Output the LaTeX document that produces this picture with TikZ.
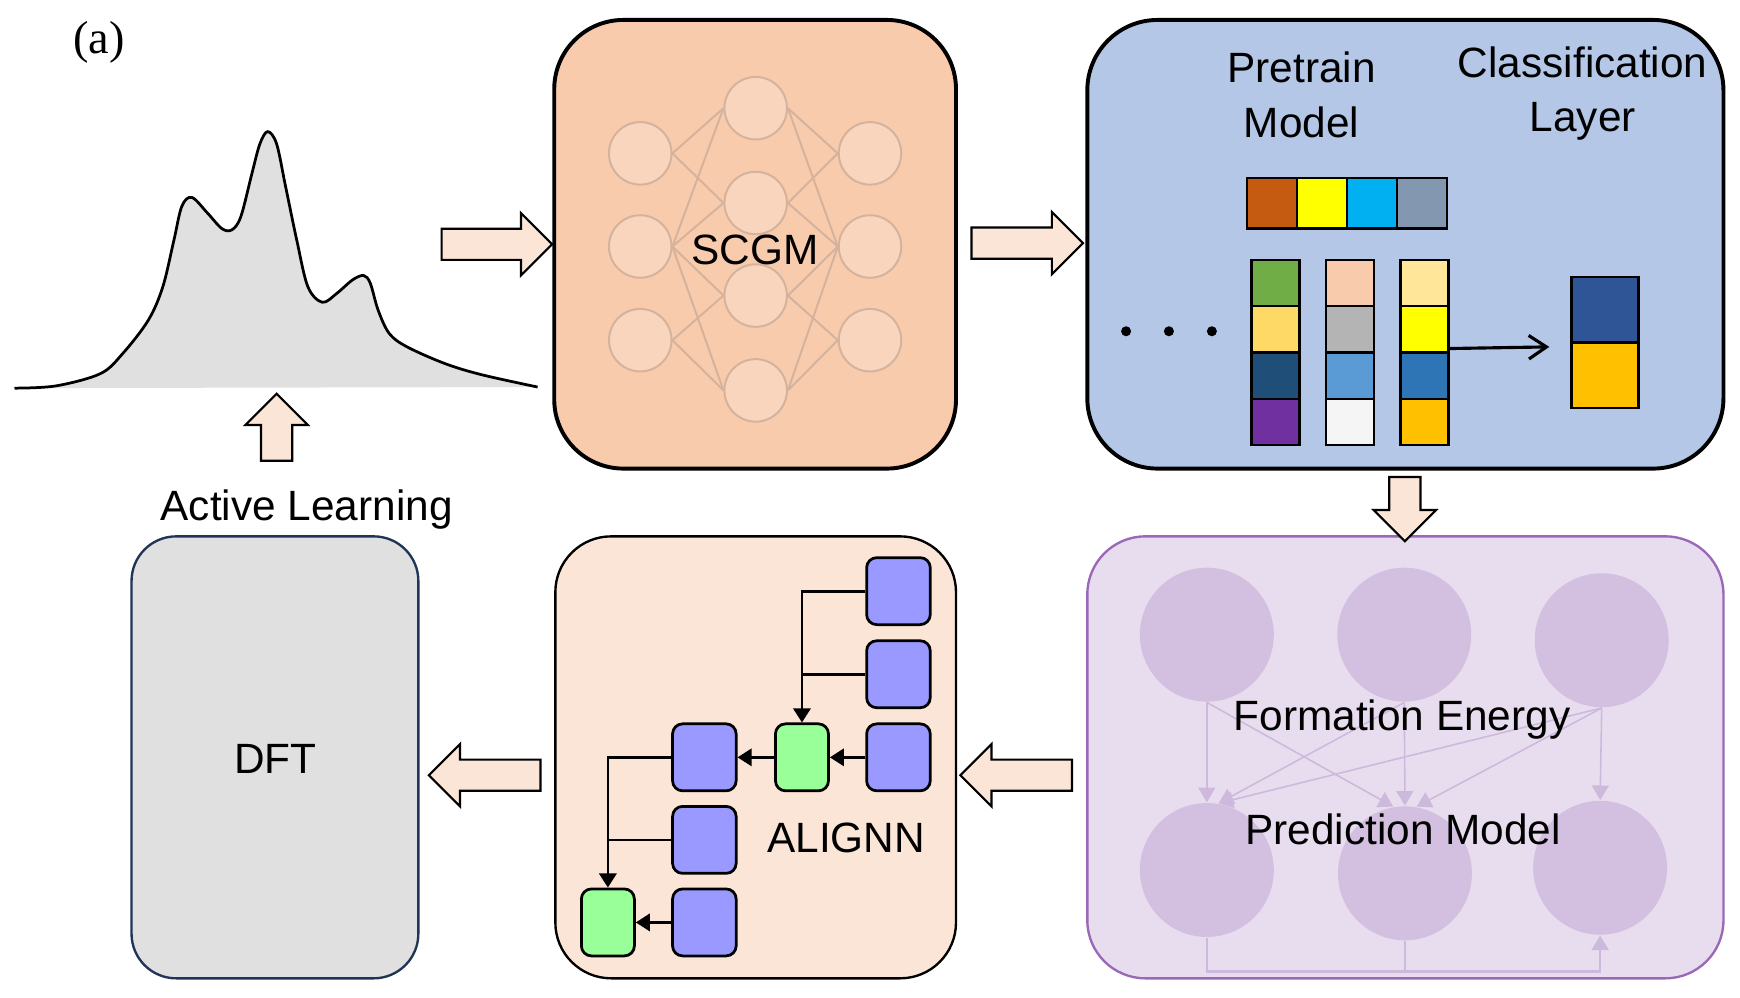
\documentclass[tikz,border=0pt]{standalone}
\usepackage{fontspec}
\setmainfont{Liberation Sans}
\newfontfamily\serifA{Liberation Serif}
\usetikzlibrary{shapes.arrows,arrows.meta,calc}
\definecolor{scgmfill}{HTML}{F8CBAD}
\definecolor{nnfill}{HTML}{F8D5BC}
\definecolor{nnline}{HTML}{D4B29C}
\definecolor{arrfill}{HTML}{FBE5D6}
\definecolor{bluefill}{HTML}{B4C7E7}
\definecolor{purfill}{HTML}{E8DDEE}
\definecolor{purline}{HTML}{9A68B6}
\definecolor{purcirc}{HTML}{D3BFE0}
\definecolor{puredge}{HTML}{CDB9DC}
\definecolor{dftfill}{HTML}{E0E0E0}
\definecolor{dftline}{HTML}{1F3456}
\definecolor{sqblue}{HTML}{9999FF}
\definecolor{sqgreen}{HTML}{99FF99}
\definecolor{specgray}{HTML}{E0E0E0}
\begin{document}
\begin{tikzpicture}[x=0.01cm,y=-0.01cm,
  lbl/.style={font=\fontsize{10.8pt}{13.9pt}\selectfont, inner sep=0, align=center},
  bigbox/.style={draw, rounded corners=#1, inner sep=0, outer sep=0},
  blockarrow/.style={single arrow, draw=black, fill=arrfill, line width=0.55pt,
     inner xsep=0, inner ysep=0.13cm, single arrow head extend=0.14cm,
     single arrow tip angle=90, minimum height=#1},
  nn/.style={circle, fill=nnfill, draw=nnline, line width=0.5pt, minimum size=0.56cm, inner sep=0},
  nnedge/.style={draw=nnline, line width=0.5pt},
  cell/.style={draw, line width=0.6pt, inner sep=0, outer sep=0},
  topcell/.style={cell, minimum width=0.449cm, minimum height=0.454cm},
  colcell/.style={cell, minimum width=0.43cm, minimum height=0.415cm},
  outcell/.style={cell, minimum width=0.60cm, minimum height=0.585cm},
  pc/.style={circle, fill=purcirc, inner sep=0, minimum size=1.2cm},
  pe/.style={draw=puredge, line width=0.4pt, -{Triangle[length=3.7pt,width=4.3pt]}},
  sq/.style={draw, line width=0.7pt, rounded corners=0.09cm, inner sep=0, minimum width=0.57cm, minimum height=0.60cm, fill=sqblue},
  gsq/.style={sq, minimum width=0.475cm, fill=sqgreen},
  al/.style={line width=0.7pt, -{Triangle[length=3.6pt,width=4.4pt]}},
  aln/.style={line width=0.7pt}
]
\useasboundingbox (0,0) rectangle (1560,894);

% (a)
\node[font=\serifA\fontsize{11.8pt}{13pt}\selectfont, inner sep=0] (lab) at (89,38) {(a)};

% spectrum
\fill[specgray] plot[smooth, tension=0.55] coordinates {(13,348) (50,346) (90,335) (110,317) (133,287) (146,257) (156,215) (163,185) (172,177) (186,191) (199,205) (208,206) (216,194) (226,155) (233,129) (240,118) (248,129) (256,167) (266,215) (276,257) (289,271) (302,263) (316,251) (326,247) (332,254) (339,278) (349,299) (365,311) (399,326) (432,336) (482,347)} -- cycle;
\draw[line width=0.7pt] plot[smooth, tension=0.55] coordinates {(13,348) (50,346) (90,335) (110,317) (133,287) (146,257) (156,215) (163,185) (172,177) (186,191) (199,205) (208,206) (216,194) (226,155) (233,129) (240,118) (248,129) (256,167) (266,215) (276,257) (289,271) (302,263) (316,251) (326,247) (332,254) (339,278) (349,299) (365,311) (399,326) (432,336) (482,347)};

% boxes
\node[bigbox=0.62cm, fill=scgmfill, line width=1pt, minimum width=3.60cm, minimum height=4.02cm] (scgm) at (677,219) {};
\node[bigbox=0.63cm, fill=bluefill, line width=1pt, minimum width=5.70cm, minimum height=4.02cm] (pre) at (1260,219) {};
\node[bigbox=0.52cm, fill=purfill, draw=purline, line width=0.6pt, minimum width=5.70cm, minimum height=3.96cm] (fe) at (1260,679) {};
\node[bigbox=0.50cm, fill=arrfill, line width=0.6pt, minimum width=3.59cm, minimum height=3.96cm] (ali) at (677.5,679) {};
\node[bigbox=0.40cm, fill=dftfill, draw=dftline, line width=0.6pt, minimum width=2.57cm, minimum height=3.96cm] (dft) at (246.5,679) {};

% block arrows
\node[blockarrow=0.99cm] (a1) at (438.5,219) {};
\node[blockarrow=1.0cm] (a2) at (914,218) {};
\node[blockarrow=0.575cm, rotate=-90] (a3) at (1259.5,449.5) {};
\node[blockarrow=1.0cm, rotate=180] (a4) at (918,695) {};
\node[blockarrow=1.0cm, rotate=180] (a5) at (441.5,695) {};
\node[blockarrow=0.60cm, rotate=90] (a6) at (248,390) {};

% SCGM network
\node[nn] (l1) at (574,137.5) {};
\node[nn] (l2) at (574,221) {};
\node[nn] (l3) at (574,305) {};
\node[nn] (m1) at (677.5,97) {};
\node[nn] (m2) at (677.5,182) {};
\node[nn] (m3) at (677.5,265) {};
\node[nn] (m4) at (677.5,350) {};
\node[nn] (r1) at (780,137.5) {};
\node[nn] (r2) at (780,221) {};
\node[nn] (r3) at (780,305) {};
\foreach \a/\b in {l1/m1,l1/m2,l2/m1,l2/m2,l2/m3,l2/m4,l3/m3,l3/m4}
  \draw[nnedge] (\a.east) -- (\b.west);
\foreach \a/\b in {m1/r1,m2/r1,m1/r2,m2/r2,m3/r2,m4/r2,m3/r3,m4/r3}
  \draw[nnedge] (\a.east) -- (\b.west);
\node[lbl] (scgmtxt) at (677,224) {SCGM};

% pretrain box content
\node[lbl] (pretxt) at (1167,85) {Pretrain\\Model};
\node[lbl] (clstxt) at (1419,84) {Classification\\Layer};
\node[topcell, fill={rgb,255:red,197;green,90;blue,17}] (t1) at (1140.4,182.3) {};
\node[topcell, fill={rgb,255:red,255;green,255;blue,0}] (t2) at (1185.3,182.3) {};
\node[topcell, fill={rgb,255:red,0;green,176;blue,240}] (t3) at (1230.2,182.3) {};
\node[topcell, fill={rgb,255:red,132;green,151;blue,176}] (t4) at (1275.1,182.3) {};
\node[colcell, fill={rgb,255:red,112;green,173;blue,71}] (c11) at (1143.5,253.75) {};
\node[colcell, fill={rgb,255:red,255;green,217;blue,102}] (c12) at (1143.5,295.25) {};
\node[colcell, fill={rgb,255:red,31;green,78;blue,121}] (c13) at (1143.5,336.75) {};
\node[colcell, fill={rgb,255:red,112;green,48;blue,160}] (c14) at (1143.5,378.25) {};
\node[colcell, fill={rgb,255:red,248;green,203;blue,173}] (c21) at (1210.5,253.75) {};
\node[colcell, fill={rgb,255:red,180;green,180;blue,180}] (c22) at (1210.5,295.25) {};
\node[colcell, fill={rgb,255:red,91;green,155;blue,213}] (c23) at (1210.5,336.75) {};
\node[colcell, fill={rgb,255:red,245;green,245;blue,245}] (c24) at (1210.5,378.25) {};
\node[colcell, fill={rgb,255:red,255;green,230;blue,153}] (c31) at (1277,253.75) {};
\node[colcell, fill={rgb,255:red,255;green,255;blue,0}] (c32) at (1277,295.25) {};
\node[colcell, fill={rgb,255:red,46;green,117;blue,182}] (c33) at (1277,336.75) {};
\node[colcell, fill={rgb,255:red,255;green,192;blue,0}] (c34) at (1277,378.25) {};
\node[outcell, fill={rgb,255:red,47;green,85;blue,151}] (o1) at (1439,277.9) {};
\node[outcell, fill={rgb,255:red,255;green,192;blue,0}] (o2) at (1439,336.5) {};
\node[circle, fill, inner sep=0, minimum size=0.09cm] (d1) at (1009.6,297) {};
\node[circle, fill, inner sep=0, minimum size=0.09cm] (d2) at (1048,297) {};
\node[circle, fill, inner sep=0, minimum size=0.09cm] (d3) at (1086.5,297) {};
\coordinate (cs) at (1298.5,312.5);
\coordinate (ce) at (1389,311);
\draw[line width=0.8pt, -{Straight Barb[length=4.5pt,width=6pt]}] (cs) -- (ce);

% formation energy box content
\node[pc] (p1) at (1082,569) {};
\node[pc] (p2) at (1259,569) {};
\node[pc] (p3) at (1436,574) {};
\node[pc] (q1) at (1082,780) {};
\node[pc] (q2) at (1259.6,783) {};
\node[pc] (q3) at (1434.6,778) {};
\draw[pe] (p1.south) -- (q1.north);
\draw[pe] (p1.south) -- (q2.100);
\draw[pe] (p2.south) -- (q1.80);
\draw[pe] (p2.south) -- (q2.north);
\draw[pe] (p3.south) -- (q1.80);
\draw[pe] (p3.south) -- (q2.80);
\draw[pe] (p3.south) -- (q3.north);
\coordinate (pb1) at (1082,871);
\coordinate (pb2) at (1259.6,871);
\draw[pe, line width=0.6pt] (q1.south) -- (pb1) -| (q3.south);
\draw[draw=puredge, line width=0.6pt] (q2.south) -- (pb2);
\node[lbl] (fetxt) at (1257,645) {Formation Energy};
\node[lbl] (pmtxt) at (1258,744) {Prediction Model};

% ALIGNN content
\node[sq] (s1) at (805.5,530) {};
\node[sq] (s2) at (805.5,604.5) {};
\node[sq] (s3) at (805.5,679) {};
\node[sq] (s4) at (631.5,679) {};
\node[sq] (s5) at (631.5,753) {};
\node[sq] (s6) at (631.5,827) {};
\node[gsq] (g1) at (719,679) {};
\node[gsq] (g2) at (545,827) {};
\draw[al] (s1.west) -| (g1.north);
\draw[aln] (s2.west) -- (s2.west -| g1.north);
\draw[al] (s3.west) -- (g1.east);
\draw[al] (g1.west) -- (s4.east);
\draw[al] (s4.west) -| (g2.north);
\draw[aln] (s5.west) -- (s5.west -| g2.north);
\draw[al] (s6.west) -- (g2.east);
\node[lbl] (alitxt) at (758.7,751.5) {ALIGNN};

% DFT and active learning labels
\node[lbl] (dfttxt) at (246.8,680) {DFT};
\node[lbl] (altxt) at (275,457) {Active Learning};
\end{tikzpicture}
\end{document}
